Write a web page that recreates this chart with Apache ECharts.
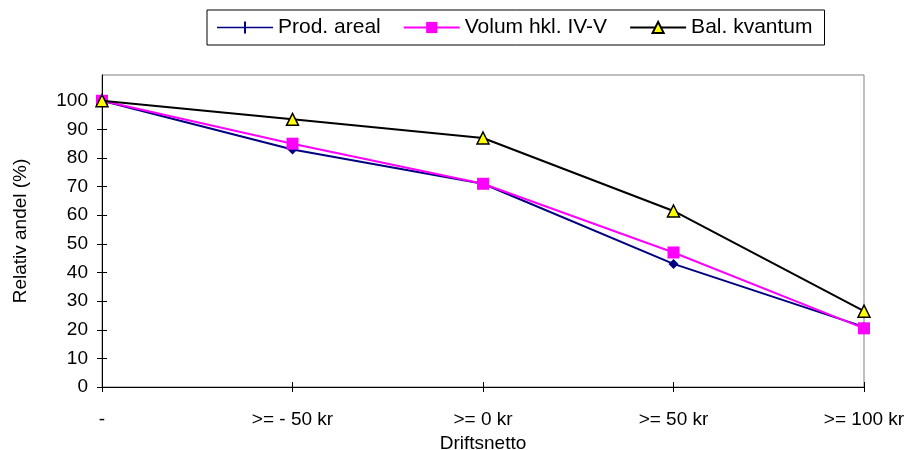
<!DOCTYPE html>
<html>
<head>
<meta charset="utf-8">
<script src="https://cdn.jsdelivr.net/npm/echarts@6/dist/echarts.min.js"></script>
<style>html,body{margin:0;padding:0;background:#fff}#c{width:913px;height:450px}</style>
</head>
<body>
<div id="c"></div>
<script>
var categories = ['-', '>= - 50 kr', '>= 0 kr', '>= 50 kr', '>= 100 kr'];
var prodAreal = [100, 83, 71, 43, 21];
var volumHkl = [100, 85, 71, 47, 20.5];
var balKvantum = [100, 93.5, 87, 61.5, 26.5];
var yTickValues = [0, 10, 20, 30, 40, 50, 60, 70, 80, 90, 100];

var font = 'Liberation Sans, Arial, sans-serif';
var chart = echarts.init(document.getElementById('c'));
chart.setOption({
  animation: false,
  textStyle: {fontFamily: font},
  legend: {
    left: 207, top: 10,
    padding: [7, 12, 7, 10],
    borderColor: '#000', borderWidth: 1,
    itemWidth: 56, itemHeight: 14, itemGap: 22,
    textStyle: {fontSize: 21, color: '#000', fontFamily: font},
    data: [
      {name: 'Prod. areal', icon: 'path://M0,6.2H56V7.8H0Z M27,1H29V13H27Z'},
      {name: 'Volum hkl. IV-V'},
      {name: 'Bal. kvantum'}
    ]
  },
  grid: {left: 102, right: 49, top: 75, bottom: 63, show: true, borderColor: '#808080', borderWidth: 1, outerBoundsMode: 'none', containLabel: false},
  xAxis: [{
    type: 'category', data: categories, boundaryGap: false,
    name: 'Driftsnetto', nameLocation: 'middle', nameGap: 44,
    nameTextStyle: {fontSize: 19, color: '#000', fontFamily: font},
    axisLine: {lineStyle: {color: '#000', width: 1}},
    axisTick: {alignWithLabel: true, length: 5, lineStyle: {color: '#000'}},
    axisLabel: {fontSize: 19, color: '#000', margin: 23, fontFamily: font},
    splitLine: {show: false}
  }, {
    type: 'category', data: categories, boundaryGap: false, position: 'bottom',
    axisLine: {show: false},
    axisTick: {inside: true, length: 5, lineStyle: {color: '#000'}},
    axisLabel: {show: false}, splitLine: {show: false}
  }],
  yAxis: [{
    type: 'value', min: 0, max: 109,
    name: 'Relativ andel (%)', nameLocation: 'middle', nameGap: 72,
    nameTextStyle: {fontSize: 19, color: '#000', fontFamily: font},
    axisLine: {show: true, lineStyle: {color: '#000', width: 1}},
    axisTick: {show: true, length: 5, customValues: yTickValues, lineStyle: {color: '#000'}},
    axisLabel: {fontSize: 19, color: '#000', margin: 14, customValues: yTickValues, fontFamily: font},
    splitLine: {show: false}
  }, {
    type: 'value', min: 0, max: 109, position: 'left',
    axisLine: {show: false},
    axisTick: {show: true, inside: true, length: 5, customValues: yTickValues, lineStyle: {color: '#000'}},
    axisLabel: {show: false}, splitLine: {show: false}
  }],
  series: [{
    name: 'Prod. areal', type: 'line', data: prodAreal,
    symbol: 'diamond', symbolSize: 10,
    lineStyle: {color: '#000080', width: 2},
    itemStyle: {color: '#000080'}, z: 2
  }, {
    name: 'Volum hkl. IV-V', type: 'line', data: volumHkl,
    symbol: 'rect', symbolSize: 12,
    lineStyle: {color: '#FF00FF', width: 2},
    itemStyle: {color: '#FF00FF'}, z: 3
  }, {
    name: 'Bal. kvantum', type: 'line', data: balKvantum,
    symbol: 'triangle', symbolSize: 12,
    lineStyle: {color: '#000000', width: 2},
    itemStyle: {color: '#FFFF00', borderColor: '#000', borderWidth: 1.5}, z: 4
  }]
});
</script>
</body>
</html>
